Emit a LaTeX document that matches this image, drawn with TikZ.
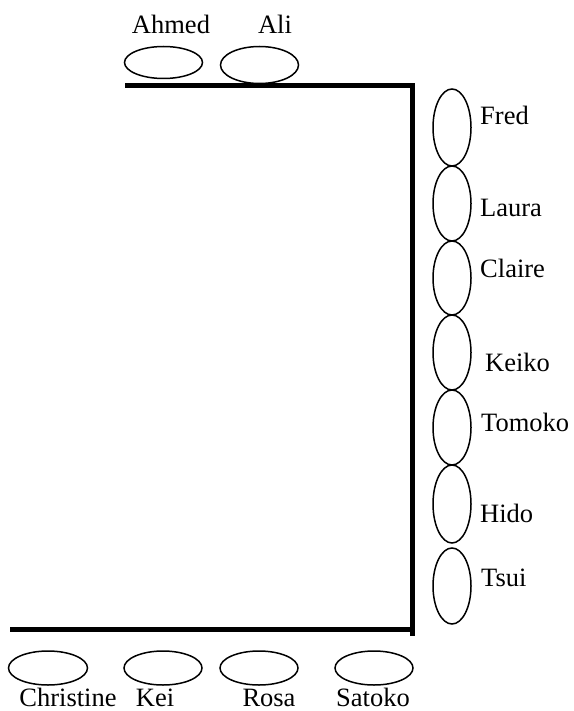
\documentclass[tikz,border=0pt]{standalone}
\usepackage{fontspec}
\setmainfont{Liberation Serif}
\newfontfamily\guestfont{Liberation Serif}
\usetikzlibrary{shapes.geometric}

\begin{document}
\begin{tikzpicture}[
	x=1pt,
	y=-1pt,
	font=\guestfont\fontsize{26.5}{31}\selectfont,
	table/.style={line width=5pt},
	seatwide/.style={draw, ellipse, line width=1.5pt, inner sep=0pt, minimum width=78pt, minimum height=34pt},
	seattall/.style={draw, ellipse, line width=1.5pt, inner sep=0pt, minimum width=38pt, minimum height=76pt},
	guestlbl/.style={inner sep=0pt, anchor=base},
	guestside/.style={inner sep=0pt, anchor=base west}
	]
	
	\useasboundingbox (0,0) rectangle (573,711);
	
	% --------------------------------------------------
	% Table edges
	% --------------------------------------------------
	\draw[table] (125,86) -- (415,86);
	\draw[table] (412.5,88) -- (412.5,636);
	\draw[table] (10,629) -- (415,629);
	
	% ==================================================
	% Top side
	% ==================================================
	\node[seatwide, minimum height=32pt] (ahmed) at (163.5,62.5) {};
	\node[seatwide, minimum height=37pt] (ali)   at (259.5,65) {};
	
	\node[guestlbl] (ahmedlbl) at (171,34) {Ahmed};
	\node[guestlbl] (alilbl)   at (275,34) {Ali};
	
	% ==================================================
	% Right side
	% ==================================================
	\node[seattall, minimum height=77pt] (fred)   at (452,127.5) {};
	\node[seattall, minimum height=75pt] (laura)  at (452,203.5) {};
	\node[seattall, minimum height=74pt] (claire) at (452,278) {};
	\node[seattall, minimum height=75pt] (keiko)  at (452,352.5) {};
	\node[seattall, minimum height=75pt] (tomoko) at (452,427.5) {};
	\node[seattall, minimum height=78pt] (hido)   at (452,504) {};
	\node[seattall] (tsui) at (452,586) {};
	
	\node[guestside] (fredlbl)   at (480,125) {Fred};
	\node[guestside] (lauralbl)  at (480,217) {Laura};
	\node[guestside] (clairelbl) at (480,277) {Claire};
	\node[guestside] (keikolbl)  at (485,371) {Keiko};
	\node[guestside] (tomokolbl) at (481,431) {Tomoko};
	\node[guestside] (hidolbl)   at (480,522) {Hido};
	\node[guestside] (tsuilbl)   at (481,586) {Tsui};
	
	% ==================================================
	% Bottom side
	% ==================================================
	\node[seatwide, minimum width=79pt] (christine) at (48,668) {};
	\node[seatwide] (kei)    at (163,668) {};
	\node[seatwide] (rosa)   at (259,668) {};
	\node[seatwide] (satoko) at (374,668) {};
	
	\node[guestlbl] (christinelbl) at (68,706) {Christine};
	\node[guestlbl] (keilbl)       at (155,706) {Kei};
	\node[guestlbl] (rosalbl)      at (269,706) {Rosa};
	\node[guestlbl] (satokolbl)    at (373,706) {Satoko};
	
\end{tikzpicture}
\end{document}
